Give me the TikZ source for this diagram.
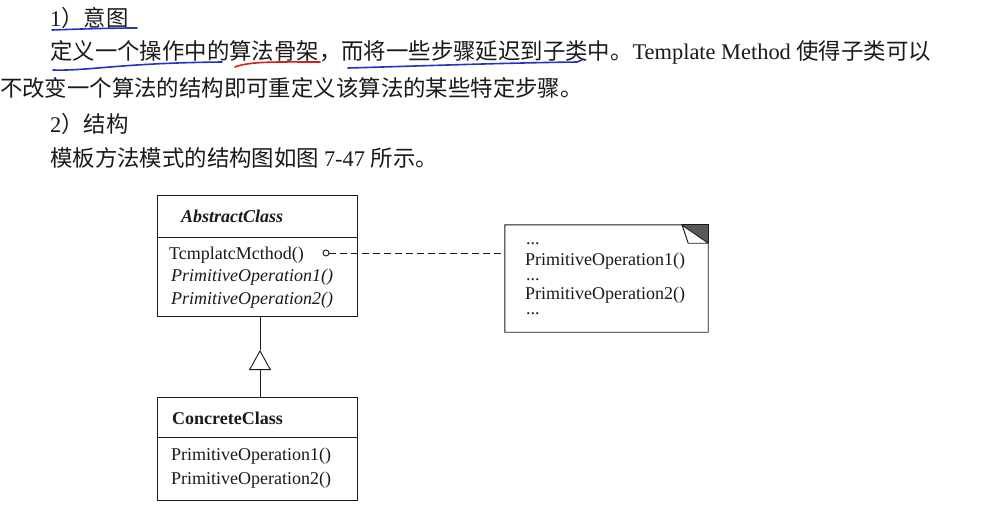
\documentclass[tikz,border=0pt]{standalone}
\usepackage{fontspec}
\setmainfont{Liberation Serif}
\newfontfamily\cjk{Noto Sans CJK SC}
\usetikzlibrary{arrows.meta}
\definecolor{ink}{HTML}{1A1A1A}
\definecolor{penblue}{HTML}{2233C8}
\definecolor{penred}{HTML}{D42020}
\tikzset{
  cjkline/.style={anchor=west,inner sep=0pt,text=ink,font=\fontsize{22.4}{26}\selectfont},
  umlbox/.style={draw=ink,line width=0.9pt,inner sep=0pt},
  member/.style={anchor=west,inner sep=0pt,text=ink,font=\fontsize{18}{20}\selectfont},
  notetext/.style={anchor=base west,inner sep=0pt,text=ink,font=\fontsize{18}{20}\selectfont,text height=12pt,text depth=2pt},
  dots/.style={anchor=base west,inner sep=0pt,text=ink,font=\fontsize{18}{20}\selectfont,text height=1.5pt,text depth=0pt},
  pen/.style={line width=1.6pt,line cap=round},
}
\begin{document}
\begin{tikzpicture}[x=1pt,y=-1pt]
\useasboundingbox[fill=white] (0,0) rectangle (982,531);
% text
\node[cjkline] (t1) at (50,18) {1{\cjk ）意图}};
\node[cjkline] (t2) at (50,52) {{\cjk 定义一个操作中的算法骨架，而将一些步骤延迟到子类中。}Template Method {\cjk 使得子类可以}};
\node[cjkline] (t3) at (0,88) {{\cjk 不改变一个算法的结构即可重定义该算法的某些特定步骤。}};
\node[cjkline] (t4) at (50,124) {2{\cjk ）结构}};
\node[cjkline] (t5) at (50,158) {{\cjk 模板方法模式的结构图如图 }7-47 {\cjk 所示。}};
% pen annotations
\draw[pen,penblue] (52,30) .. controls (80,29) and (110,28) .. (137,28);
\draw[pen,penblue] (53,70) .. controls (90,71) and (120,63) .. (222,62);
\draw[pen,penred] (235,67) .. controls (250,61) and (280,62) .. (320,62);
\draw[pen,penblue] (348,68) .. controls (420,66) and (500,63) .. (577,62) -- (582,60);
% AbstractClass
\node[umlbox,minimum width=200,minimum height=121] (ac) at (257,255.5) {};
\draw[ink,line width=0.9pt] (ac.west|-0,237) -- (ac.east|-0,237);
\node[member,font=\fontsize{18}{20}\selectfont\bfseries\itshape] (acn) at (181,216) {AbstractClass};
\node[member] (m1) at (169,255) {TcmplatcMcthod()};
\node[member,font=\fontsize{18}{20}\selectfont\itshape] (m2) at (171,277) {PrimitiveOperation1()};
\node[member,font=\fontsize{18}{20}\selectfont\itshape] (m3) at (171,300) {PrimitiveOperation2()};
% ConcreteClass
\node[umlbox,minimum width=200,minimum height=103] (cc) at (257,448.5) {};
\draw[ink,line width=0.9pt] (cc.west|-0,437) -- (cc.east|-0,437);
\node[member,font=\fontsize{18}{20}\selectfont\bfseries] (ccn) at (172,418) {ConcreteClass};
\node[member] (c1) at (171,456) {PrimitiveOperation1()};
\node[member] (c2) at (171,480) {PrimitiveOperation2()};
% inheritance
\coordinate (apex) at (260,350);
\draw[ink,line width=0.9pt] (ac.south-|apex) -- (apex);
\draw[ink,line width=0.9pt,-{Triangle[open,length=20pt,width=22pt,line width=0.9pt]}] (cc.north-|apex) -- (apex);
% note
\node[inner sep=0pt,minimum width=203,minimum height=107] (note) at (606.5,278.5) {};
\fill[gray!70!black] (note.north east) ++(-26,0) -- (note.north east) -- ++(0,18) -- cycle;
\draw[ink,line width=0.9pt] (note.north east) ++(-26,0) -- (note.north west) -- (note.south west) -- (note.south east) -- ++(0,-89) -- ++(-20,0) -- ++(-6,-18) -- ++(26,18);
\draw[ink,line width=0.9pt] (note.north east) ++(-26,0) -- (note.north east) -- ++(0,18);
\node[dots] (n1) at (526,244) {...};
\node[notetext] (n2) at (525,265) {PrimitiveOperation1()};
\node[dots] (n3) at (526,280) {...};
\node[notetext] (n4) at (525,299) {PrimitiveOperation2()};
\node[dots] (n5) at (526,314) {...};
% dependency
\node[circle,draw=ink,line width=0.9pt,inner sep=0pt,minimum size=6] (dot) at (326,253) {};
\draw[ink,line width=1pt,dash pattern=on 7pt off 4pt] (dot) -- (note.west|-dot);
\end{tikzpicture}
\end{document}
